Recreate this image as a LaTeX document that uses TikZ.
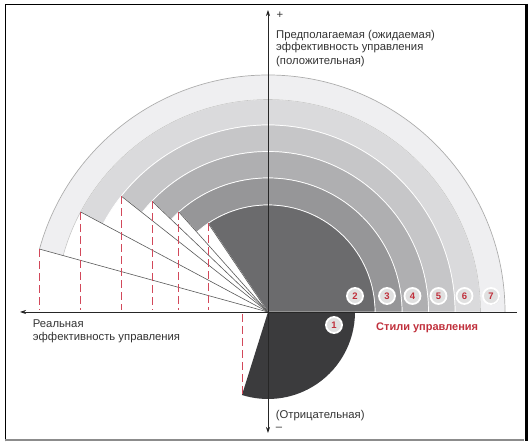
\documentclass[tikz,border=0pt]{standalone}
\usepackage{fontspec}
\setmainfont{Liberation Sans}
\usetikzlibrary{arrows.meta,shadows}
\definecolor{txt}{HTML}{333333}
\definecolor{redt}{HTML}{C0303C}
\definecolor{dashred}{HTML}{D2485A}
\definecolor{c1}{HTML}{3B3B3D}
\definecolor{c2}{HTML}{6B6B6D}
\definecolor{c3}{HTML}{969698}
\definecolor{c4}{HTML}{AFAFB1}
\definecolor{c5}{HTML}{C6C6C8}
\definecolor{c6}{HTML}{DADADC}
\definecolor{c7}{HTML}{EFEFF1}
\tikzset{
  band/.style={draw=white, line width=0.7pt},
  ray/.style={draw=black!65, line width=0.6pt},
  reddash/.style={draw=dashred, line width=0.8pt, dash pattern=on 8pt off 4pt},
  axis/.style={draw=black!85, line width=0.7pt},
  lbl/.style={text=txt, inner sep=0pt, font=\fontsize{11.3}{13}\selectfont},
  num/.style={circle, fill=black!12, draw=white, line width=1.8pt, minimum size=16pt, inner sep=0pt,
    text=redt, font=\bfseries\fontsize{9.5}{9.5}\selectfont,
    drop shadow={opacity=0.35, shadow xshift=0.7pt, shadow yshift=-0.7pt}}
}
\begin{document}
\begin{tikzpicture}[x=1pt,y=1pt]
\useasboundingbox (-268,-135) rectangle (263,312);
\coordinate (O) at (0,0);
% bands (outer first)
\foreach \ri/\ro/\a/\c/\n in {212.5/237/164.6/c7/7, 187/212.5/151.9/c6/6, 160.5/187/141.7/c5/5, 134/160.5/136.3/c4/4, 107/134/131.7/c3/3}{
  \path[band, fill=\c] (0:\ri) -- (0:\ro) arc[start angle=0, end angle=\a, radius=\ro] -- (\a:\ri) arc[start angle=\a, end angle=0, radius=\ri] -- cycle;
  \coordinate (k\n) at (\a:\ro);
}
\path[band, fill=c2] (O) -- (0:107) arc[start angle=0, end angle=124, radius=107] -- cycle;
\coordinate (k2) at (124:107);
\draw[gray!65, line width=0.7pt] (0:237) arc[start angle=0, end angle=164.6, radius=237];
\draw[gray!45, line width=0.6pt] (0:212.5) arc[start angle=0, end angle=164.6, radius=212.5];
% sector 1
\fill[c1] (O) -- (0:87) arc[start angle=0, end angle=-107.4, radius=87] -- cycle;
\coordinate (k1) at (-107.4:87);
% rays
\foreach \n in {2,3,4,5,6,7}{ \draw[ray] (O) -- (k\n); }
% dashed verticals
\foreach \n in {2,3,4,5,6,7}{ \draw[reddash] (k\n) -- ([yshift=2pt]k\n |- O); }
\draw[reddash] ([yshift=-2pt]k1 |- O) -- (k1);
% axes
\coordinate (yt) at (0,302);
\coordinate (yb) at (0,-121);
\coordinate (xl) at (-248,0);
\coordinate (xr) at (249,0);
\draw[axis, {Stealth[length=6pt,width=4pt]}-{Stealth[length=6pt,width=4pt]}] (yb) -- (yt);
\draw[axis, -{Stealth[length=6pt,width=4pt]}] (xr) -- (xl);
% numbered circles
\node[num] (n1) at (66,-13) {1};
\node[num] (n2) at (87,16) {2};
\node[num] (n3) at (119,16) {3};
\node[num] (n4) at (144.5,16) {4};
\node[num] (n5) at (170.5,16) {5};
\node[num] (n6) at (196.5,16) {6};
\node[num] (n7) at (223,16) {7};
% labels
\node[lbl] (plus) at (12,296.5) {+};
\node[lbl, anchor=base west] (p1) at (8,273.5) {Предполагаемая (ожидаемая)};
\node[lbl, anchor=base west] (p2) at (8,261) {эффективность управления};
\node[lbl, anchor=base west] (p3) at (8,247.5) {(положительная)};
\node[lbl, anchor=base west] (r1) at (-235.3,-15.7) {Реальная};
\node[lbl, anchor=base west] (r2) at (-235.3,-28.7) {эффективность управления};
\node[lbl, anchor=base west, text=redt, font=\bfseries\fontsize{11}{13}\selectfont] (st) at (108,-19) {Стили управления};
\node[lbl, anchor=base west] (neg) at (7.7,-106.3) {(Отрицательная)};
\node[lbl] (minus) at (11,-117) {–};
% frame
\draw[black, line width=1.2pt] (-262.5,-129.5) -- (-262.5,307.5) -- (258,307.5);
\draw[black!45, line width=2pt] (-262.5,-128.5) -- (256.5,-128.5);
\draw[black, line width=3pt] (258.5,308.1) -- (258.5,-129.5);
\end{tikzpicture}
\end{document}
